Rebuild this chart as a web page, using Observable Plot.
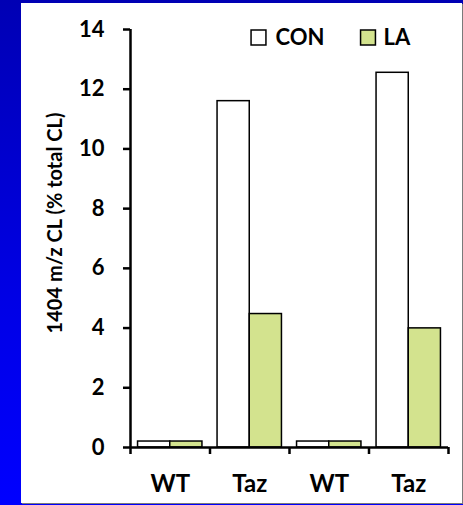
<!DOCTYPE html>
<html>
<head>
<meta charset="utf-8">
<script src="https://cdn.jsdelivr.net/npm/d3@7"></script>
<script src="https://cdn.jsdelivr.net/npm/@observablehq/plot@0.6"></script>
<style>
  html, body { margin: 0; padding: 0; }
  body {
    width: 463px; height: 505px; overflow: hidden; position: relative;
    background: linear-gradient(to bottom, #0000b4 0%, #0000e6 60%, #0000ff 100%);
  }
  #panel {
    position: absolute; left: 21px; top: 3px; width: 441px; height: 500px;
    background: #ffffff; box-shadow: 1px 1px 0 #7a7a7a;
  }
  #panel svg { display: block; }
  g[aria-label="y-title"] text { letter-spacing: 1.1px; }
  g[aria-label="x-labels"] text { letter-spacing: 0.6px; }
  g[aria-label="y-ticklabels"] text { letter-spacing: 0.8px; }
</style>
</head>
<body>
<div id="panel"></div>
<script>
// ---- data ----
const categories = ["WT", "Taz", "WT", "Taz"];
const series = ["CON", "LA"];
const conValues = [0.2, 11.6, 0.2, 12.55];
const laValues = [0.2, 4.47, 0.2, 3.99];
const yTicks = [0, 2, 4, 6, 8, 10, 12, 14];
const yLabel = "1404 m/z CL (% total CL)";
const seriesColors = ["#ffffff", "#d3e38e"];

// ---- table for the library ----
const rows = [];
categories.forEach((cat, i) => {
  rows.push({i, cat, series: "CON", value: conValues[i]});
  rows.push({i, cat, series: "LA", value: laValues[i]});
});

const inset = 0.095;
const W = 441, H = 500;
const mL = 109, mR = 14, mT = 26, mB = 56;
const font = "Lato, 'Open Sans', sans-serif";

const chart = Plot.plot({
  width: W,
  height: H,
  marginLeft: mL,
  marginRight: mR,
  marginTop: mT,
  marginBottom: mB,
  style: {fontFamily: font, fontWeight: "bold", color: "black", background: "white"},
  x: {type: "linear", domain: [0, categories.length], axis: null},
  y: {domain: [0, 14], axis: null},
  color: {domain: series, range: seriesColors},
  marks: [
    // bars
    Plot.rectY(rows, {
      x1: d => d.i + (d.series === "CON" ? inset : 0.5),
      x2: d => d.i + (d.series === "CON" ? 0.5 : 1 - inset),
      y1: 0,
      y2: "value",
      fill: "series",
      stroke: "black",
      strokeWidth: 1.5
    }),
    // y axis
    Plot.axisY({
      ticks: yTicks,
      tickSize: 7,
      strokeWidth: 2.5,
      text: null,
      label: null
    }),
    Plot.axisY({
      ticks: yTicks,
      tickSize: 7,
      tickPadding: 19,
      stroke: null,
      fontSize: 22,
      fontWeight: "bold",
      label: null,
      ariaLabel: "y-ticklabels"
    }),
    Plot.ruleX([0], {strokeWidth: 2.5}),
    // x axis boundary ticks
    Plot.axisX({
      ticks: d3.range(categories.length + 1),
      tickSize: 7,
      strokeWidth: 2.5,
      tickFormat: () => "",
      label: null
    }),
    // x category labels
    Plot.axisX({
      ticks: categories.map((c, i) => i + 0.5),
      tickSize: 0,
      tickPadding: 27,
      fontSize: 24,
      fontWeight: "bold",
      tickFormat: v => categories[Math.floor(v)],
      label: null,
      ariaLabel: "x-labels"
    }),
    Plot.ruleY([0], {strokeWidth: 2.5}),
    // y axis title
    Plot.text([yLabel], {
      frameAnchor: "left",
      rotate: -90,
      textAnchor: "middle",
      dx: -75,
      dy: -15.5,
      fontSize: 20,
      fontWeight: "bold",
      text: d => d,
      ariaLabel: "y-title"
    }),
    // legend
    Plot.dot([series[0]], {frameAnchor: "top-left", dx: 128, dy: 8, symbol: "square", r: 8.4, fill: d => d, stroke: "black", strokeWidth: 1.5}),
    Plot.text([series[0]], {frameAnchor: "top-left", dx: 145, dy: 8, text: d => d, textAnchor: "start", lineAnchor: "middle", fontSize: 22, fontWeight: "bold"}),
    Plot.dot([series[1]], {frameAnchor: "top-left", dx: 237.5, dy: 8, symbol: "square", r: 8.4, fill: d => d, stroke: "black", strokeWidth: 1.5}),
    Plot.text([series[1]], {frameAnchor: "top-left", dx: 253, dy: 8, text: d => d, textAnchor: "start", lineAnchor: "middle", fontSize: 22, fontWeight: "bold"})
  ]
});

document.getElementById("panel").appendChild(chart);
</script>
</body>
</html>
